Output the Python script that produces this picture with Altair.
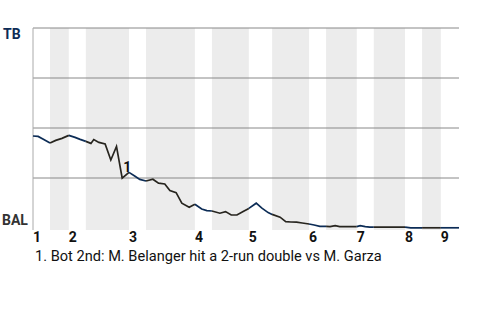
import altair as alt
import pandas as pd

# Half-inning boundaries (event index units): T1, B1, T2, B2, ... T9, end
half_bounds = [0, 3.0, 6.3, 9.3, 16.9, 19.9, 28.5, 31.5, 38.0, 42.1,
               48.6, 51.6, 57.0, 60.0, 65.5, 68.5, 71.8, 75.0]
inning_labels = ["1", "2", "3", "4", "5", "6", "7", "8", "9"]

# Event positions and TB win probability (%)
pa_x = [0, 0.9, 1.9, 3.0,
        4.0, 5.1, 6.3,
        7.4, 8.3, 9.3,
        10.2, 10.7, 11.6, 12.7, 13.7, 14.7, 15.7, 16.9,
        17.9, 18.8, 19.9,
        21.1, 22.1, 23.2, 24.1, 25.2, 26.2, 27.5, 28.5,
        29.7, 30.6, 31.5,
        32.9, 33.9, 34.9, 35.9, 37.0, 38.0,
        39.3, 40.3, 41.4, 42.1,
        43.5, 44.5, 45.4, 46.4, 47.4, 48.6,
        49.5, 50.5, 51.6,
        52.3, 53.2, 54.0, 55.1, 56.0, 57.0,
        57.6, 58.5, 59.3, 60.0,
        61.1, 62.1, 63.2, 64.3, 65.5,
        66.5, 67.4, 68.5,
        69.5, 70.6, 71.8,
        72.9, 73.9, 75.0]
tb_wp = [46.0, 45.8, 44.3, 42.5,
         43.8, 44.8, 46.3,
         45.3, 44.3, 43.3,
         42.3, 44.2, 42.8, 42.0, 34.0, 40.8, 24.9, 27.8,
         26.0, 24.3, 23.5,
         24.4, 22.4, 22.0, 18.7, 17.7, 12.4, 10.4, 11.9,
         9.5, 8.7, 8.5,
         7.4, 8.2, 6.5, 6.5, 8.2, 9.8,
         12.4, 9.9, 7.7, 6.8,
         5.4, 3.2, 3.0, 2.9, 2.5, 2.0,
         1.5, 0.8, 0.8,
         0.7, 1.2, 0.7, 0.7, 0.7, 0.7,
         1.2, 0.7, 0.4, 0.4,
         0.4, 0.4, 0.4, 0.4, 0.4,
         0.1, 0.1, 0.1,
         0.1, 0.1, 0.1,
         0.1, 0.1, 0.1]

grid_levels = [25, 50, 75, 100]
note_label = "1"
note_x = 15.7
note_wp = 24.9
footnote = "1. Bot 2nd: M. Belanger hit a 2-run double vs M. Garza"

NAVY = "#0c2c56"
DARK = "#27251f"
FONT = "Roboto"

xmin, xmax = half_bounds[0], half_bounds[-1]
xs = alt.Scale(domain=[xmin, xmax], nice=False, zero=False)
ys = alt.Scale(domain=[-1, 100], nice=False, zero=False)
team_scale = alt.Scale(domain=["TB", "BAL"], range=[NAVY, DARK])

# Line segments per half inning (boundary points shared)
rows = []
for k in range(len(half_bounds) - 1):
    a, b = half_bounds[k], half_bounds[k + 1]
    team = "TB" if k % 2 == 0 else "BAL"
    for x, p in zip(pa_x, tb_wp):
        if a - 1e-9 <= x <= b + 1e-9:
            rows.append({"x": x, "wp": p, "seg": k, "team": team})
line_df = pd.DataFrame(rows)

bands_df = pd.DataFrame({"x0": half_bounds[1:-1:2], "x1": half_bounds[2::2]})
bands_df["y0"] = -1
bands_df["y1"] = 100

grid_df = pd.DataFrame({"g": grid_levels})
grid_df["x0"] = xmin
grid_df["x1"] = xmax

axis_df = pd.DataFrame({"x": [xmin], "y0": [-1], "y1": [100]})

inning_df = pd.DataFrame({"x": half_bounds[0:-1:2], "label": inning_labels})
inning_df["y"] = 0

bands = alt.Chart(bands_df).mark_rect(color="#ececec").encode(
    x=alt.X("x0:Q", scale=xs, axis=None), x2="x1:Q",
    y=alt.Y("y0:Q", scale=ys, axis=None), y2="y1:Q")

grid = alt.Chart(grid_df).mark_rule(color="#888888", strokeWidth=1).encode(
    x=alt.X("x0:Q", scale=xs, axis=None), x2="x1:Q",
    y=alt.Y("g:Q", scale=ys, axis=None))

left_axis = alt.Chart(axis_df).mark_rule(color="#aaaaaa", strokeWidth=1).encode(
    x=alt.X("x:Q", scale=xs, axis=None),
    y=alt.Y("y0:Q", scale=ys, axis=None), y2="y1:Q")

line = alt.Chart(line_df).mark_line(strokeWidth=1.7).encode(
    x=alt.X("x:Q", scale=xs, axis=None),
    y=alt.Y("wp:Q", scale=ys, axis=None),
    color=alt.Color("team:N", scale=team_scale, legend=None),
    detail="seg:N",
    order="x:Q")

innings = alt.Chart(inning_df).mark_text(
    align="left", baseline="alphabetic", dy=14, font=FONT, fontSize=14,
    fontWeight="bold", color="#111111").encode(
    x=alt.X("x:Q", scale=xs, axis=None),
    y=alt.Y("y:Q", scale=ys, axis=None),
    text="label:N")

tb_df = pd.DataFrame({"x": [xmin], "y": [100], "team": ["TB"]})
bal_df = pd.DataFrame({"x": [xmin], "y": [0], "team": ["BAL"]})

tb_text = alt.Chart(tb_df).mark_text(
    align="left", baseline="alphabetic", dx=-30, dy=11, font=FONT,
    fontSize=14, fontWeight="bold").encode(
    x=alt.X("x:Q", scale=xs, axis=None),
    y=alt.Y("y:Q", scale=ys, axis=None),
    color=alt.Color("team:N", scale=team_scale, legend=None),
    text="team:N")

bal_text = alt.Chart(bal_df).mark_text(
    align="left", baseline="alphabetic", dx=-31, dy=-3, font=FONT,
    fontSize=14, fontWeight="bold", color="#333333").encode(
    x=alt.X("x:Q", scale=xs, axis=None),
    y=alt.Y("y:Q", scale=ys, axis=None),
    text="team:N")

note_df = pd.DataFrame({"x": [note_x], "y": [note_wp], "label": [note_label]})
note = alt.Chart(note_df).mark_text(
    align="left", baseline="alphabetic", dx=1, dy=-6, font=FONT,
    fontSize=14, fontWeight="bold", color="#111111").encode(
    x=alt.X("x:Q", scale=xs, axis=None),
    y=alt.Y("y:Q", scale=ys, axis=None),
    text="label:N")

foot_df = pd.DataFrame({"x": [xmin], "y": [0], "label": [footnote]})
foot = alt.Chart(foot_df).mark_text(
    align="left", baseline="alphabetic", dx=2, dy=33, font=FONT,
    fontSize=14.6, color="#111111").encode(
    x=alt.X("x:Q", scale=xs, axis=None),
    y=alt.Y("y:Q", scale=ys, axis=None),
    text="label:N")

chart = alt.layer(bands, grid, left_axis, line, innings, tb_text, bal_text,
                  note, foot).properties(
    width=426, height=202,
    padding={"left": 33, "top": 28, "right": 21, "bottom": 90},
    autosize=alt.AutoSizeParams(type="none"),
    background="white",
).configure_view(stroke=None)

chart.save("out.html", embed_options={"renderer": "svg", "actions": False})
